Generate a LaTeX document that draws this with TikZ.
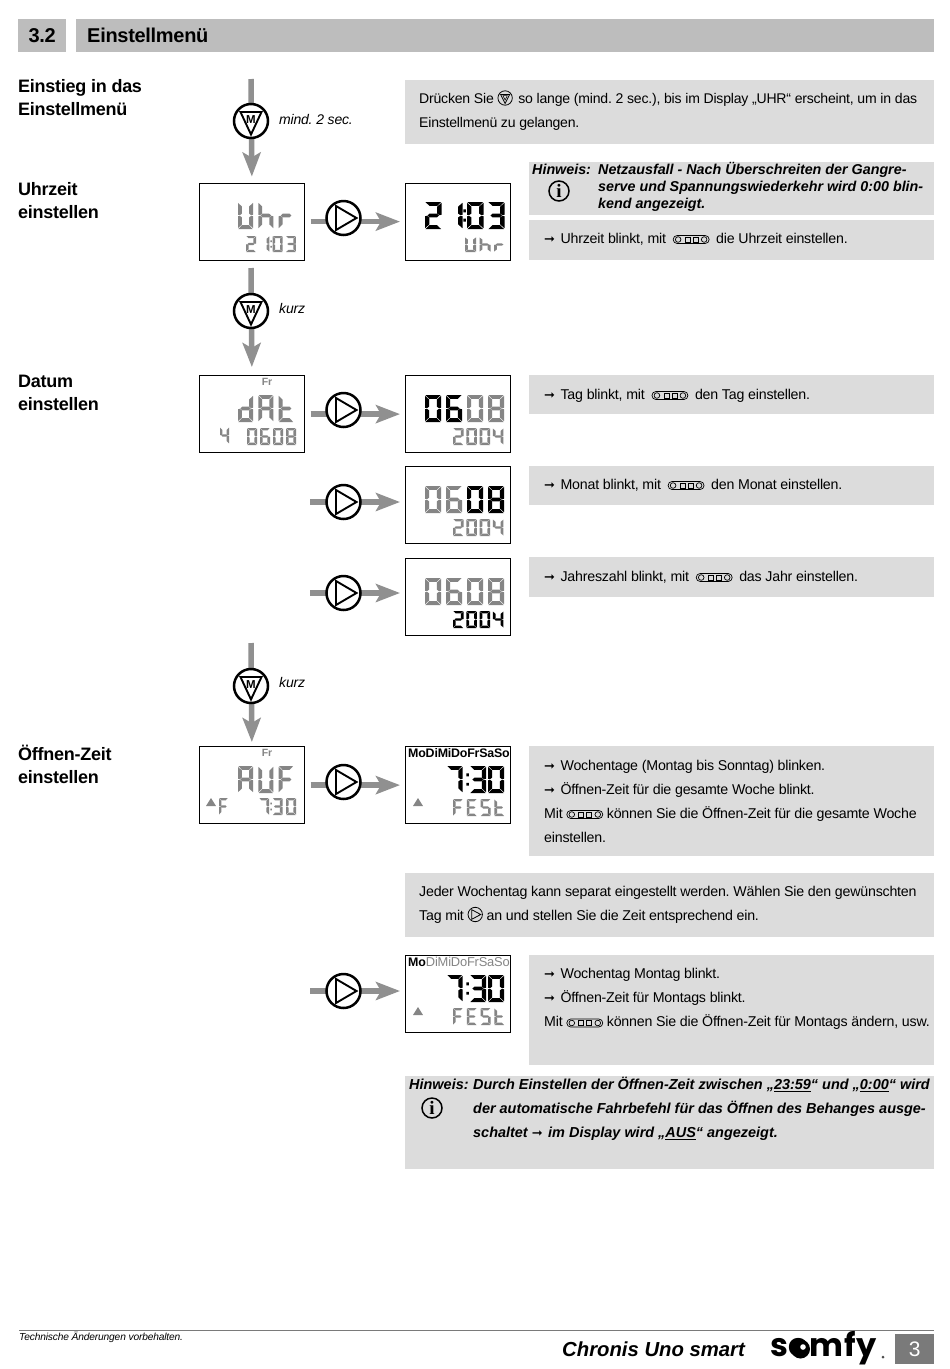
\documentclass[tikz,border=0pt]{standalone}
\usepackage{fontspec}
\usepackage{xcolor}
\usepackage{tikz}
\usetikzlibrary{arrows.meta,positioning}
\setmainfont[LetterSpace=-1.5]{Liberation Sans}
\newfontfamily\hintfont{Liberation Sans}
\newfontfamily\symfont{DejaVu Sans}
\newfontfamily\serfont{Liberation Serif}
\newfontfamily\logofont[LetterSpace=2]{Poppins}
\frenchspacing

\definecolor{panelgray}{HTML}{DCDCDC}
\definecolor{headgray}{HTML}{BDBDBD}
\definecolor{flowgray}{HTML}{909090}
\definecolor{lcdgray}{HTML}{858585}
\definecolor{pagegray}{HTML}{7A7A7A}

% seven segments in a unit cell, y runs downwards
\def\lcdsega{(.03,0) -- (.97,0) -- (.74,.14) -- (.26,.14) -- cycle}
\def\lcdsegd{(.03,1) -- (.97,1) -- (.74,.86) -- (.26,.86) -- cycle}
\def\lcdsegf{(0,.03) -- (.26,.17) -- (.26,.43) -- (.12,.49) -- (0,.47) -- cycle}
\def\lcdsege{(0,.53) -- (.12,.51) -- (.26,.57) -- (.26,.83) -- (0,.97) -- cycle}
\def\lcdsegb{(1,.03) -- (.74,.17) -- (.74,.43) -- (.88,.49) -- (1,.47) -- cycle}
\def\lcdsegc{(1,.53) -- (.88,.51) -- (.74,.57) -- (.74,.83) -- (1,.97) -- cycle}
\def\lcdsegg{(.15,.5) -- (.28,.43) -- (.72,.43) -- (.85,.5) -- (.72,.57) -- (.28,.57) -- cycle}
\def\lcdsegk{(-.22,.27) rectangle (-.07,.38) (-.22,.62) rectangle (-.07,.73)}

\newcommand\lcddef[2]{\expandafter\def\csname lcdchar#1\endcsname{#2}}
\lcddef{0}{a,b,c,d,e,f}
\lcddef{1}{b,c}
\lcddef{2}{a,b,g,e,d}
\lcddef{3}{a,b,g,c,d}
\lcddef{4}{b,c,f,g}
\lcddef{6}{a,c,d,e,f,g}
\lcddef{7}{a,b,c}
\lcddef{8}{a,b,c,d,e,f,g}
\lcddef{:0}{a,b,c,d,e,f,k}
\lcddef{:3}{a,b,g,c,d,k}
\lcddef{U}{b,c,d,e,f}
\lcddef{h}{c,e,f,g}
\lcddef{r}{e,g}
\lcddef{d}{b,c,d,e,g}
\lcddef{A}{a,b,c,e,f,g}
\lcddef{t}{d,e,f,g}
\lcddef{F}{a,e,f,g}
\lcddef{E}{a,d,e,f,g}
\lcddef{S}{a,c,d,f,g}

% name, x, y, cell width, cell height, pitch, colour, cells, text
\newcommand\lcdline[9]{%
  \node[lcdtext, font=\fontsize{#5}{#5}\selectfont] (#1) at (#2,{#3+#5/2}) {#9};
  \foreach \lcdc [count=\lcdi] in {#8} {
    \expandafter\let\expandafter\lcdlist\csname lcdchar\lcdc\endcsname
    \begin{scope}[shift={({#2+(\lcdi-1)*#6},#3)}, xscale=#4, yscale=#5]
      \foreach \lcds in \lcdlist {
        \expandafter\let\expandafter\lcdpath\csname lcdseg\lcds\endcsname
        \fill[#7] \lcdpath;
      }
    \end{scope}
  }
}

\newcommand\keysicon{\tikz[baseline=-3.5pt, x=1pt, y=1pt, line width=.7pt]{
  \draw[rounded corners=4pt] (0,-4) rectangle (36,4);
  \draw (5,0) circle (2.8);
  \draw (12,-2.5) rectangle (17,2.5);
  \draw (20,-2.5) rectangle (25,2.5);
  \draw (31,0) circle (2.8);}}
\newcommand\modeicon{\tikz[baseline=-5.5pt, x=1pt, y=1pt, line width=.8pt]{
  \draw (0,0) circle (7.2);
  \draw (-4.5,3.6) -- (4.5,3.6) -- (0,-5.5) -- cycle;
  \draw[line width=.5pt] (-2.2,2.4) -- (2.2,2.4) -- (0,-2) -- cycle;}}
\newcommand\playicon{\tikz[baseline=-5.5pt, x=1pt, y=1pt, line width=.8pt]{
  \draw (0,0) circle (7.2);
  \draw (-3.5,-4.8) -- (-3.5,4.8) -- (5.5,0) -- cycle;}}
\newcommand\tick{{\symfont\fontsize{13}{13}\selectfont ➞}\hspace{5.5pt}}

\begin{document}
\begin{tikzpicture}[
  x=1pt, y=-1pt,
  headbox/.style={fill=headgray, anchor=north west, inner sep=0pt},
  panel/.style 2 args={fill=panelgray, anchor=north west, inner sep=0pt,
              minimum width=#1pt, minimum height=#2pt},
  headtext/.style={font=\bfseries\fontsize{20}{20}\selectfont, inner sep=0pt},
  stage/.style={anchor=north west, inner sep=0pt, align=left,
              font=\bfseries\fontsize{18}{23}\selectfont, execute at begin node=\strut},
  body/.style={anchor=north west, inner sep=0pt, align=left,
              font=\fontsize{14.2}{24}\selectfont, execute at begin node=\strut},
  hint/.style 2 args={anchor=north west, inner sep=0pt, align=left,
              font=\hintfont\bfseries\itshape\fontsize{#1}{#2}\selectfont, execute at begin node=\strut},
  info/.style={circle, draw, line width=1.5pt, minimum size=20pt, inner sep=0pt,
              font=\serfont\bfseries\fontsize{19}{19}\selectfont},
  caption/.style={anchor=west, inner sep=0pt, font=\itshape\fontsize{14}{14}\selectfont},
  lcdbox/.style={draw, line width=1.2pt, anchor=north west, inner sep=0pt,
              minimum width=#1pt, minimum height=77pt},
  lcdtext/.style={anchor=west, inner sep=0pt, text opacity=0},
  dayfont/.style={inner sep=0pt, font=\fontsize{12.6}{12.6}\selectfont},
  line/.style={line width=5.5pt, draw=flowgray, -{Stealth[length=24pt, width=18pt, inset=5pt, fill=flowgray]}},
  modebtn/.style={circle, draw, line width=2.5pt, fill=white, minimum size=34pt, inner sep=0pt,
              font=\bfseries\fontsize{11.5}{11.5}\selectfont,
              path picture={\draw[line width=1.9pt]
                ([shift={(-10.5,-9)}]path picture bounding box.center) --
                ([shift={(10.5,-9)}]path picture bounding box.center) --
                ([shift={(0,13.5)}]path picture bounding box.center) -- cycle;}},
  playbtn/.style={circle, draw, line width=2.5pt, fill=white, minimum size=34pt, inner sep=0pt,
              path picture={\draw[line width=1.9pt]
                ([shift={(-7.5,-12)}]path picture bounding box.center) --
                ([shift={(-7.5,12)}]path picture bounding box.center) --
                ([shift={(13,0)}]path picture bounding box.center) -- cycle;}}
]
\path[fill=white, use as bounding box] (0,0) rectangle (950,1369);

% header
\node[headbox, minimum width=48pt, minimum height=33pt] (secbox) at (18,19) {};
\node[headbox, minimum width=858pt, minimum height=33pt] (titlebox) at (76,19) {};
\node[headtext] (sec) at (secbox.center) {3.2};
\node[headtext, anchor=west] (title) at (87,35.5) {Einstellmenü};

% section labels
\node[stage] (stEinstieg) at (18,79) {Einstieg in das\\Einstellmenü};
\node[stage] (stUhr) at (18,182) {Uhrzeit\\einstellen};
\node[stage] (stDatum) at (18,374.5) {Datum\\einstellen};
\node[stage] (stAuf) at (18,744.5) {Öffnen-Zeit\\einstellen};

% panels
\node[panel={529}{64}] (pDruck) at (405,80) {};
\node[panel={405}{53}] (pNetz) at (529,162) {};
\node[panel={405}{40}] (pUhr) at (529,220) {};
\node[panel={405}{39}] (pTag) at (529,375) {};
\node[panel={405}{39}] (pMonat) at (529,466) {};
\node[panel={405}{40}] (pJahr) at (529,557) {};
\node[panel={405}{110}] (pWoche) at (529,746) {};
\node[panel={529}{64}] (pJeder) at (405,873) {};
\node[panel={405}{110}] (pMontag) at (529,955) {};
\node[panel={529}{93}] (pAus) at (405,1076) {};

\node[body, font=\fontsize{14.05}{24}\selectfont] (tDruck) at (419,90.2) {Drücken Sie \modeicon\hspace{2pt} so lange (mind. 2 sec.), bis im Display „UHR“ erscheint, um in das\\Einstellmenü zu gelangen.};
\node[hint={14.3}{17}] (tNetzA) at (532,162) {Hinweis:};
\node[hint={14.3}{17}] (tNetzB) at (598,162) {Netzausfall - Nach Überschreiten der Gangre-\\serve und Spannungswiederkehr wird 0:00 blin-\\kend angezeigt.};
\node[info] (iNetz) at (559,191) {i};
\node[body] (tUhr) at (544,226) {\tick Uhrzeit blinkt, mit \hspace{3pt}\keysicon\hspace{3pt} die Uhrzeit einstellen.};
\node[body] (tTag) at (544,382) {\tick Tag blinkt, mit \hspace{3pt}\keysicon\hspace{3pt} den Tag einstellen.};
\node[body] (tMonat) at (544,472) {\tick Monat blinkt, mit \hspace{3pt}\keysicon\hspace{3pt} den Monat einstellen.};
\node[body] (tJahr) at (544,564) {\tick Jahreszahl blinkt, mit \hspace{3pt}\keysicon\hspace{3pt} das Jahr einstellen.};
\node[body] (tWoche) at (544,759.5) {\tick Wochentage (Montag bis Sonntag) blinken.\\\tick Öffnen-Zeit für die gesamte Woche blinkt.\\Mit \keysicon\ können Sie die Öffnen-Zeit für die gesamte Woche\\einstellen.};
\node[body] (tJeder) at (419,885.5) {Jeder Wochentag kann separat eingestellt werden. Wählen Sie den gewünschten\\Tag mit \playicon\ an und stellen Sie die Zeit entsprechend ein.};
\node[body] (tMontag) at (544,968) {\tick Wochentag Montag blinkt.\\\tick Öffnen-Zeit für Montags blinkt.\\Mit \keysicon\ können Sie die Öffnen-Zeit für Montags ändern, usw.};
\node[hint={14.45}{24}] (tAusA) at (409,1072) {Hinweis:};
\node[hint={14.45}{24}] (tAusB) at (473,1077) {Durch Einstellen der Öffnen-Zeit zwischen „\underline{23:59}“ und „\underline{0:00}“ wird\\der automatische Fahrbefehl für das Öffnen des Behanges ausge-\\schaltet \tick im Display wird „\underline{AUS}“ angezeigt.};
\node[info] (iAus) at (432,1108) {i};

% displays
\node[lcdbox=104.5] (dUhrL) at (199,182.5) {};
\node[lcdbox=105] (dUhrR) at (405,182.5) {};
\node[lcdbox=104.5] (dDatL) at (199,375) {};
\node[lcdbox=105] (dTag) at (405,375) {};
\node[lcdbox=105] (dMonat) at (405,466) {};
\node[lcdbox=105] (dJahr) at (405,558) {};
\node[lcdbox=104.5] (dAufL) at (199,746) {};
\node[lcdbox=105] (dAufR) at (405,746) {};
\node[lcdbox=105] (dMo) at (405,955) {};

\lcdline{lUhrA}{238}{202}{15}{27}{20.3}{lcdgray}{U,h,r}{Uhr}
\lcdline{lUhrB}{246}{236}{10}{16}{13.3}{lcdgray}{2,1,:0,3}{21:03}
\lcdline{lUhrC}{425}{202}{16.5}{27}{21}{black}{2,1,:0,3}{21:03}
\lcdline{lUhrD}{465}{237}{11}{15}{14.5}{lcdgray}{U,h,r}{Uhr}

\node[dayfont, lcdgray, font=\bfseries\fontsize{10.5}{10.5}\selectfont] (frA) at (267,382) {Fr};
\lcdline{lDatA}{238}{395}{15}{27}{20.3}{lcdgray}{d,A,t}{dAt}
\lcdline{lDatB}{220}{427}{9}{17}{13}{lcdgray}{4}{4}
\lcdline{lDatC}{247}{428}{10}{17}{13}{lcdgray}{0,6,0,8}{0608}
\lcdline{lTagA}{425}{395}{16}{27}{21}{black}{0,6}{06}
\lcdline{lTagB}{467}{395}{16}{27}{21}{lcdgray}{0,8}{08}
\lcdline{lTagC}{453}{428}{10.5}{17}{13.3}{lcdgray}{2,0,0,4}{2004}
\lcdline{lMonA}{425}{486}{16}{27}{21}{lcdgray}{0,6}{06}
\lcdline{lMonB}{467}{486}{16}{27}{21}{black}{0,8}{08}
\lcdline{lMonC}{453}{519}{10.5}{17}{13.3}{lcdgray}{2,0,0,4}{2004}
\lcdline{lJahrA}{425}{578}{16}{27}{21}{lcdgray}{0,6}{06}
\lcdline{lJahrB}{467}{578}{16}{27}{21}{lcdgray}{0,8}{08}
\lcdline{lJahrC}{453}{611}{10.5}{17}{13.3}{black}{2,0,0,4}{2004}

\node[dayfont, lcdgray, font=\bfseries\fontsize{10.5}{10.5}\selectfont] (frB) at (267,753) {Fr};
\lcdline{lAufA}{238}{766}{15}{27}{20.3}{lcdgray}{A,U,F}{AUF}
\fill[lcdgray] (206,806) -- (216,806) -- (211,798) -- cycle;
\lcdline{lAufB}{219}{798}{9}{17}{13}{lcdgray}{F}{F}
\lcdline{lAufC}{259}{798}{10}{17}{13.5}{lcdgray}{7,:3,0}{7:30}
\node[dayfont, anchor=west, font=\bfseries\fontsize{12.4}{12.4}\selectfont] (daysA) at (408,753) {MoDiMiDoFrSaSo};
\lcdline{lAufD}{447}{766}{15.5}{27}{20}{black}{7}{7:30}
\lcdline{lAufF}{470}{766}{16}{27}{18}{black}{:3,0}{}
\fill[lcdgray] (413,806) -- (423,806) -- (418,798) -- cycle;
\lcdline{lAufE}{453}{799}{10}{17}{13.8}{lcdgray}{F,E,S,t}{FESt}

\node[dayfont, anchor=west] (daysB) at (408,962) {\bfseries\fontsize{12.4}{12.4}\selectfont Mo\mdseries\color{lcdgray}\fontsize{12.9}{12.9}\selectfont DiMiDoFrSaSo};
\lcdline{lMoA}{447}{975}{15.5}{27}{20}{black}{7}{7:30}
\lcdline{lMoC}{470}{975}{16}{27}{18}{black}{:3,0}{}
\fill[lcdgray] (413,1015) -- (423,1015) -- (418,1007) -- cycle;
\lcdline{lMoB}{453}{1008}{10}{17}{13.8}{lcdgray}{F,E,S,t}{FESt}

% free ends of the connectors
\coordinate (inTop) at (251,79);
\coordinate (inKurzA) at (251,268);
\coordinate (inKurzB) at (251,643);
\coordinate (inMonat) at (310,502);
\coordinate (inJahr) at (310,593);
\coordinate (inMo) at (310,991);

\draw[line] (inTop) -- ([yshift=6pt]dUhrL.north);
\draw[line] (inKurzA) -- ([yshift=8pt]dDatL.north);
\draw[line] (inKurzB) -- ([yshift=4pt]dAufL.north);
\draw[line] (dUhrL.east) ++(6,0) -- ([xshift=-5pt]dUhrR.west);
\draw[line] (dDatL.east) ++(6,0) -- ([xshift=-5pt]dTag.west);
\draw[line] (inMonat) -- ([xshift=-5pt]dMonat.west |- inMonat);
\draw[line] (inJahr) -- ([xshift=-5pt]dJahr.west |- inJahr);
\draw[line] (dAufL.east) ++(6,0) -- ([xshift=-5pt]dAufR.west);
\draw[line] (inMo) -- ([xshift=-5pt]dMo.west |- inMo);

\node[modebtn] (mTop) at (251,121) {\raisebox{3pt}{M}};
\node[modebtn] (mKurzA) at (251,311) {\raisebox{3pt}{M}};
\node[modebtn] (mKurzB) at (251,686) {\raisebox{3pt}{M}};
\node[playbtn] (pUhrBtn) at (343.5,218) {};
\node[playbtn] (pTagBtn) at (343.5,410) {};
\node[playbtn] (pMonBtn) at (343.5,502) {};
\node[playbtn] (pJahrBtn) at (343.5,593) {};
\node[playbtn] (pAufBtn) at (343.5,782) {};
\node[playbtn] (pMoBtn) at (343.5,991) {};

\node[caption] (capTop) at (279,119) {mind. 2 sec.};
\node[caption] (capKurzA) at (279,308) {kurz};
\node[caption] (capKurzB) at (279,682) {kurz};

% footer
\draw[pagegray, line width=1pt] (19,1330) -- (934,1330);
\node[anchor=west, inner sep=0pt, font=\itshape\fontsize{10.2}{10.2}\selectfont] (tech) at (19,1337) {Technische Änderungen vorbehalten.};
\node[anchor=west, inner sep=0pt, font=\hintfont\bfseries\itshape\fontsize{20.3}{20.3}\selectfont] (model) at (562,1349) {Chronis Uno smart};
\node[anchor=base west, inner sep=0pt, font=\logofont\bfseries\fontsize{32}{32}\selectfont] (logo) at (770,1356.5) {somfy};
\fill[black] (800.5,1349) circle (9.5);
\fill[white] (803,1347) circle (2.8);
\fill[black!70] (883,1357) circle (1.5);
\node[fill=pagegray, text=white, anchor=north west, inner sep=0pt, minimum width=39pt, minimum height=30pt,
      font=\fontsize{21}{21}\selectfont] (pageno) at (895,1334) {3};
\end{tikzpicture}
\end{document}
